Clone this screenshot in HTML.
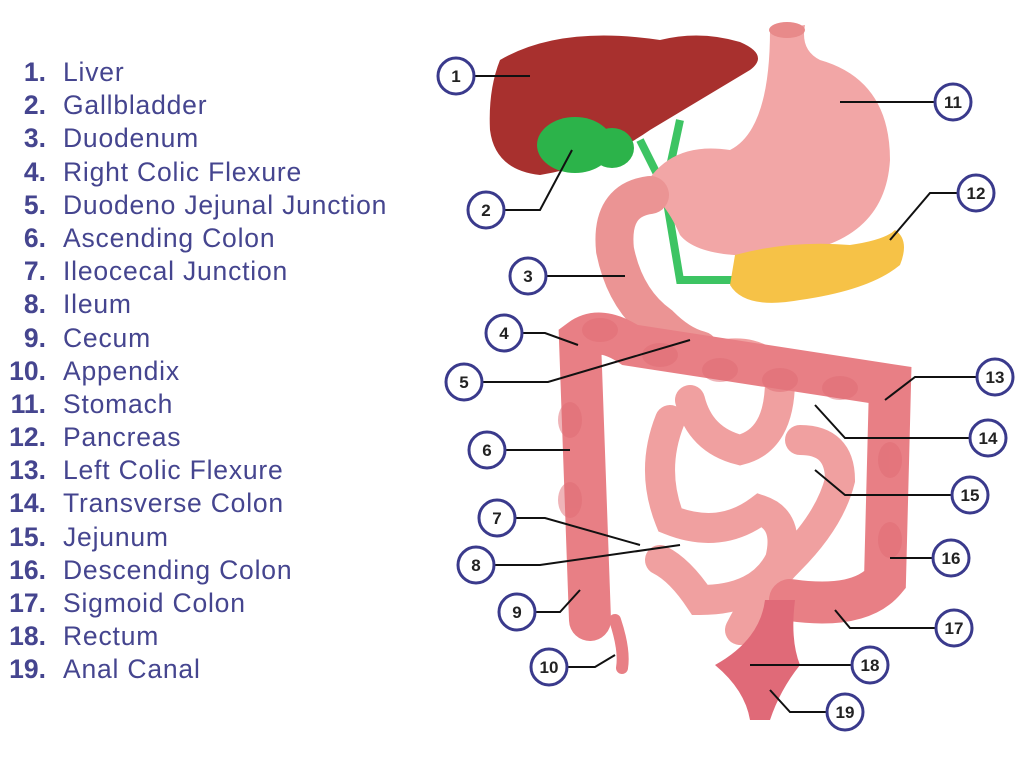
<!DOCTYPE html>
<html><head><meta charset="utf-8"><style>
html,body{margin:0;padding:0;background:#fff;}
body{width:1024px;height:758px;position:relative;overflow:hidden;font-family:"Liberation Sans",sans-serif;}
.list{position:absolute;left:0;top:56px;color:#45458f;font-size:26.5px;letter-spacing:0.8px;}
.list div{height:33.2px;line-height:33.2px;white-space:nowrap;}
.list b{display:inline-block;width:46px;text-align:right;margin-right:17px;font-weight:600;letter-spacing:0;}
svg{position:absolute;left:0;top:0;}
</style></head><body>
<div class="list">
<div><b>1.</b>Liver</div><div><b>2.</b>Gallbladder</div><div><b>3.</b>Duodenum</div>
<div><b>4.</b>Right Colic Flexure</div><div><b>5.</b>Duodeno Jejunal Junction</div>
<div><b>6.</b>Ascending Colon</div><div><b>7.</b>Ileocecal Junction</div><div><b>8.</b>Ileum</div>
<div><b>9.</b>Cecum</div><div><b>10.</b>Appendix</div><div><b>11.</b>Stomach</div>
<div><b>12.</b>Pancreas</div><div><b>13.</b>Left Colic Flexure</div><div><b>14.</b>Transverse Colon</div>
<div><b>15.</b>Jejunum</div><div><b>16.</b>Descending Colon</div><div><b>17.</b>Sigmoid Colon</div>
<div><b>18.</b>Rectum</div><div><b>19.</b>Anal Canal</div>
</div>
<svg width="1024" height="758" viewBox="0 0 1024 758">
<path d="M500 60 Q560 25 660 40 Q700 30 740 42 Q770 55 750 70 Q700 100 650 130 Q600 165 540 175 Q495 170 490 130 Q488 90 500 60Z" fill="#a8302e"/>
<path d="M640 140 L665 190 L680 280 L740 280 M665 190 L680 120" stroke="#3dc463" stroke-width="8" fill="none"/>
<ellipse cx="575" cy="145" rx="38" ry="28" fill="#2cb34a"/><ellipse cx="612" cy="148" rx="22" ry="20" fill="#2cb34a"/>
<path d="M770 30 L805 25 Q800 50 820 60 Q890 80 890 160 Q885 245 780 255 Q700 260 680 235 Q660 190 640 195 Q665 140 730 150 Q770 130 770 30Z" fill="#f2a6a6"/>
<ellipse cx="787" cy="30" rx="18" ry="8" fill="#e88a8a"/>
<path d="M650 195 Q610 200 615 250 Q625 300 660 325 Q680 345 700 350" stroke="#eb9494" stroke-width="38" fill="none" stroke-linecap="round"/>
<path d="M735 255 Q790 240 850 245 Q885 240 895 230 Q910 240 900 265 Q870 290 800 300 Q745 310 730 285Z" fill="#f6c247"/>
<g stroke="#f0a0a0" stroke-width="30" fill="none" stroke-linecap="round">
<path d="M700 360 Q760 340 780 380 Q780 440 740 450 Q700 440 690 400"/>
<path d="M670 420 Q650 470 670 520 Q720 540 760 510 Q790 520 780 560 Q760 600 700 600 Q680 570 660 560"/>
<path d="M800 440 Q840 440 840 480 Q830 520 790 560 Q760 590 740 630"/>
</g>
<g stroke="#e87f85" stroke-width="42" fill="none" stroke-linecap="round">
<path d="M590 620 L580 340 Q600 325 630 345 L890 385 L885 580 Q860 610 790 600"/>
</g>
<g fill="#e06c74" opacity="0.5">
<ellipse cx="600" cy="330" rx="18" ry="12"/><ellipse cx="660" cy="355" rx="18" ry="12"/><ellipse cx="720" cy="370" rx="18" ry="12"/><ellipse cx="780" cy="380" rx="18" ry="12"/><ellipse cx="840" cy="388" rx="18" ry="12"/>
<ellipse cx="570" cy="420" rx="12" ry="18"/><ellipse cx="570" cy="500" rx="12" ry="18"/><ellipse cx="890" cy="460" rx="12" ry="18"/><ellipse cx="890" cy="540" rx="12" ry="18"/>
</g>
<path d="M615 620 Q625 650 622 668" stroke="#e87f85" stroke-width="12" fill="none" stroke-linecap="round"/>
<path d="M765 600 L795 600 Q790 640 800 665 Q780 690 770 720 L750 720 Q745 690 715 665 Q760 640 765 600Z" fill="#e06a78"/>
<g stroke="#111" stroke-width="2" fill="none">
<path d="M474 76H530"/><path d="M504 210H540L572 150"/><path d="M546 276H625"/>
<path d="M522 333H545L578 345"/><path d="M482 382H548L690 340"/><path d="M505 450H570"/>
<path d="M515 518H545L640 545"/><path d="M494 565H540L680 545"/><path d="M535 612H560L580 590"/>
<path d="M567 667H595L615 655"/><path d="M935 102H840"/><path d="M958 193H930L890 240"/>
<path d="M977 377H915L885 400"/><path d="M970 438H845L815 405"/><path d="M952 495H845L815 470"/>
<path d="M933 558H890"/><path d="M936 628H850L835 610"/><path d="M852 665H750"/><path d="M827 712H790L770 690"/>
</g>
<g stroke="#3a3a8c" stroke-width="3" fill="#fff">
<circle cx="456" cy="76" r="18"/><circle cx="486" cy="210" r="18"/><circle cx="528" cy="276" r="18"/>
<circle cx="504" cy="333" r="18"/><circle cx="464" cy="382" r="18"/><circle cx="487" cy="450" r="18"/>
<circle cx="497" cy="518" r="18"/><circle cx="476" cy="565" r="18"/><circle cx="517" cy="612" r="18"/>
<circle cx="549" cy="667" r="18"/><circle cx="953" cy="102" r="18"/><circle cx="976" cy="193" r="18"/>
<circle cx="995" cy="377" r="18"/><circle cx="988" cy="438" r="18"/><circle cx="970" cy="495" r="18"/>
<circle cx="951" cy="558" r="18"/><circle cx="954" cy="628" r="18"/><circle cx="870" cy="665" r="18"/>
<circle cx="845" cy="712" r="18"/>
</g>
<g fill="#222" font-family="Liberation Sans, sans-serif" font-size="17" text-anchor="middle" font-weight="bold">
<text x="456" y="82">1</text><text x="486" y="216">2</text><text x="528" y="282">3</text>
<text x="504" y="339">4</text><text x="464" y="388">5</text><text x="487" y="456">6</text>
<text x="497" y="524">7</text><text x="476" y="571">8</text><text x="517" y="618">9</text>
<text x="549" y="673">10</text><text x="953" y="108">11</text><text x="976" y="199">12</text>
<text x="995" y="383">13</text><text x="988" y="444">14</text><text x="970" y="501">15</text>
<text x="951" y="564">16</text><text x="954" y="634">17</text><text x="870" y="671">18</text>
<text x="845" y="718">19</text>
</g>
</svg>
</body></html>
